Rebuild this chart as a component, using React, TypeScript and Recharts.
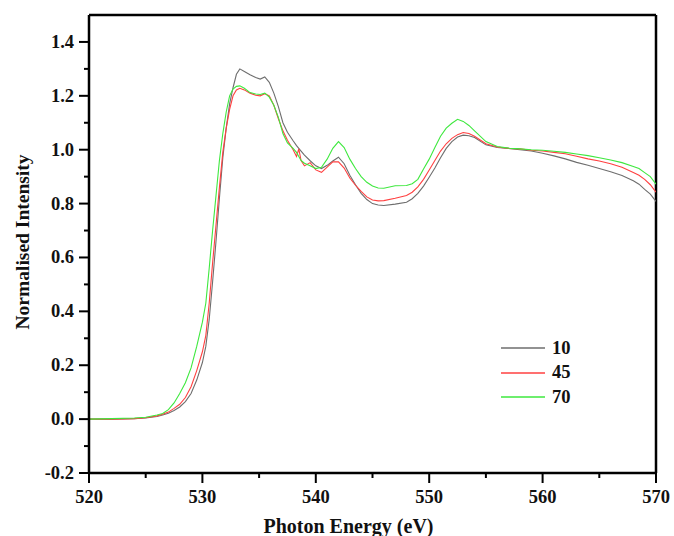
import { LineChart, Line, XAxis, YAxis, ReferenceLine } from 'recharts';

const energy = [
  520, 522, 524, 525, 526, 526.5, 527, 527.5, 528, 528.5,
  529, 529.5, 530, 530.3, 530.6, 530.9, 531.2, 531.5, 531.8, 532.1,
  532.4, 532.7, 533, 533.3, 533.7, 534.2, 534.7, 535.1, 535.5, 535.9,
  536.3, 536.7, 537.1, 537.5, 538, 538.3, 538.5, 538.7, 539, 539.5,
  540, 540.5, 541, 541.5, 542, 542.5, 543, 543.5, 544, 544.5,
  545, 545.5, 546, 547, 548, 548.5, 549, 549.5, 550, 550.5,
  551, 551.5, 552, 552.5, 553, 553.5, 554, 555, 556, 557,
  558, 559, 560, 561, 562, 563, 564, 565, 566, 567,
  568, 568.5, 569, 569.5, 570,
];

const intensity10 = [
  0, 0, 0.002, 0.004, 0.01, 0.015, 0.022, 0.032, 0.045, 0.065,
  0.095, 0.145, 0.21, 0.27, 0.37, 0.51, 0.66, 0.82, 0.97, 1.08,
  1.17, 1.23, 1.28, 1.3, 1.29, 1.278, 1.268, 1.262, 1.27, 1.25,
  1.21, 1.16, 1.1, 1.065, 1.033, 1.015, 1.005, 0.995, 0.98, 0.959,
  0.94, 0.93, 0.942, 0.958, 0.972, 0.948, 0.905, 0.87, 0.838, 0.815,
  0.8, 0.795, 0.793, 0.798, 0.805, 0.818, 0.838, 0.865, 0.898, 0.932,
  0.97, 1.005, 1.03, 1.047, 1.054, 1.052, 1.045, 1.018, 1.008, 1.005,
  1.0, 0.995, 0.987, 0.977, 0.966, 0.953, 0.942, 0.93, 0.918, 0.904,
  0.885, 0.872, 0.853, 0.835, 0.808,
];

const intensity45 = [
  0, 0, 0.002, 0.005, 0.012, 0.018, 0.026, 0.04, 0.055, 0.08,
  0.12, 0.18, 0.25, 0.31, 0.43, 0.58, 0.72, 0.86, 0.99, 1.08,
  1.15, 1.2, 1.222, 1.228, 1.222, 1.21, 1.202, 1.2, 1.208, 1.2,
  1.165, 1.115, 1.07, 1.035, 1.0, 0.975, 1.003, 0.96, 0.94, 0.952,
  0.925, 0.916, 0.935, 0.955, 0.955, 0.932, 0.895, 0.868, 0.845, 0.825,
  0.813, 0.81, 0.811, 0.82, 0.83, 0.842, 0.862, 0.89, 0.925, 0.96,
  0.995, 1.022, 1.042, 1.056, 1.064, 1.06, 1.05, 1.022, 1.01, 1.005,
  1.003, 0.998, 0.995, 0.99, 0.985, 0.976, 0.966, 0.958, 0.948, 0.935,
  0.915, 0.905, 0.89, 0.87, 0.842,
];

const intensity70 = [
  0, 0.002, 0.004, 0.007, 0.015, 0.021, 0.035, 0.06, 0.095, 0.135,
  0.19, 0.27, 0.36, 0.43, 0.56, 0.7, 0.83, 0.96, 1.06, 1.14,
  1.2, 1.225, 1.235, 1.237, 1.228, 1.212, 1.207, 1.205, 1.21, 1.195,
  1.165, 1.12, 1.06, 1.025, 1.005, 0.99, 0.975, 0.96, 0.95, 0.94,
  0.93, 0.935, 0.965, 1.005, 1.03, 1.008, 0.965, 0.93, 0.9, 0.879,
  0.865, 0.858, 0.857, 0.866, 0.867, 0.874, 0.89, 0.928, 0.965, 1.008,
  1.05, 1.08, 1.098, 1.113, 1.105, 1.09, 1.07, 1.03, 1.012, 1.006,
  1.003, 1.0, 0.998, 0.994, 0.99, 0.984, 0.978, 0.97, 0.962, 0.952,
  0.938, 0.93, 0.915, 0.9, 0.872,
];

const xTicks = [520, 525, 530, 535, 540, 545, 550, 555, 560, 565, 570];
const yTicks = [-0.2, -0.1, 0, 0.1, 0.2, 0.3, 0.4, 0.5, 0.6, 0.7, 0.8, 0.9, 1.0, 1.1, 1.2, 1.3, 1.4];

const series = [
  { key: 's10', name: '10', color: '#6e6e6e' },
  { key: 's45', name: '45', color: '#ff4040' },
  { key: 's70', name: '70', color: '#3ee83e' },
];

const chartData = energy.map((e, i) => ({
  e,
  s10: intensity10[i],
  s45: intensity45[i],
  s70: intensity70[i],
}));

const FONT = '"Liberation Serif", "Times New Roman", serif';

const isMajorX = (v: number) => Math.round(v) % 10 === 0;
const isMajorY = (v: number) => Math.abs(Math.round(v * 10)) % 2 === 0;

const XTick = ({ x, y, payload }: any) => {
  const major = isMajorX(payload.value);
  return (
    <g>
      <line x1={x} y1={y} x2={x} y2={y + (major ? 10 : 5)} stroke="#000" strokeWidth={2} />
      {major && (
        <text x={x} y={y + 30} textAnchor="middle" fontFamily={FONT} fontWeight="bold" fontSize={18.5} fill="#111">
          {payload.value}
        </text>
      )}
    </g>
  );
};

const YTick = ({ x, y, payload }: any) => {
  const major = isMajorY(payload.value);
  return (
    <g>
      <line x1={x} y1={y} x2={x - (major ? 10 : 5)} y2={y} stroke="#000" strokeWidth={2} />
      {major && (
        <text x={x - 15} y={y + 6} textAnchor="end" fontFamily={FONT} fontWeight="bold" fontSize={18.5} fill="#111">
          {payload.value.toFixed(1)}
        </text>
      )}
    </g>
  );
};

const XLabel = ({ viewBox }: any) => (
  <text x={viewBox.x + viewBox.width / 2 - 24} y={533} textAnchor="middle" fontFamily={FONT} fontWeight="bold" fontSize={20} fill="#111">
    Photon Energy (eV)
  </text>
);

const YLabel = ({ viewBox }: any) => {
  const cy = viewBox.y + viewBox.height / 2 - 2;
  return (
    <text x={28.5} y={cy} transform={`rotate(-90, 28.5, ${cy})`} textAnchor="middle" fontFamily={FONT} fontWeight="bold" fontSize={19.5} fill="#111">
      Normalised Intensity
    </text>
  );
};

export default function App() {
  return (
    <div style={{ position: 'absolute', left: 0, top: 0, width: 674, height: 536, background: '#fff' }}>
      <LineChart width={674} height={536} data={chartData} margin={{ top: 15, right: 18, left: 29, bottom: 33 }}>
        <XAxis
          dataKey="e"
          type="number"
          domain={[520, 570]}
          ticks={xTicks}
          interval={0}
          height={30}
          tickSize={0}
          tickMargin={0}
          tickLine={false}
          axisLine={{ stroke: '#000', strokeWidth: 2.5 }}
          tick={<XTick />}
          label={XLabel}
          allowDataOverflow
        />
        <YAxis
          type="number"
          domain={[-0.2, 1.5]}
          ticks={yTicks}
          interval={0}
          width={60}
          tickSize={0}
          tickMargin={0}
          tickLine={false}
          axisLine={{ stroke: '#000', strokeWidth: 2.5 }}
          tick={<YTick />}
          label={YLabel}
          allowDataOverflow
        />
        <ReferenceLine y={1.5} stroke="#000" strokeWidth={2.5} />
        <ReferenceLine x={570} stroke="#000" strokeWidth={2.5} />
        {series.map(s => (
          <Line
            key={s.key}
            type="linear"
            dataKey={s.key}
            name={s.name}
            stroke={s.color}
            strokeWidth={1.1}
            dot={false}
            isAnimationActive={false}
          />
        ))}
      </LineChart>
      <div style={{ position: 'absolute', left: 501, top: 336, fontFamily: FONT, fontWeight: 'bold', fontSize: 18.5, color: '#111' }}>
        {series.map(s => (
          <div key={s.key} style={{ display: 'flex', alignItems: 'center', height: 24.5 }}>
            <svg width={44} height={4} style={{ marginRight: 7 }}>
              <line x1={0} y1={2} x2={44} y2={2} stroke={s.color} strokeWidth={1.5} />
            </svg>
            <span>{s.name}</span>
          </div>
        ))}
      </div>
    </div>
  );
}
